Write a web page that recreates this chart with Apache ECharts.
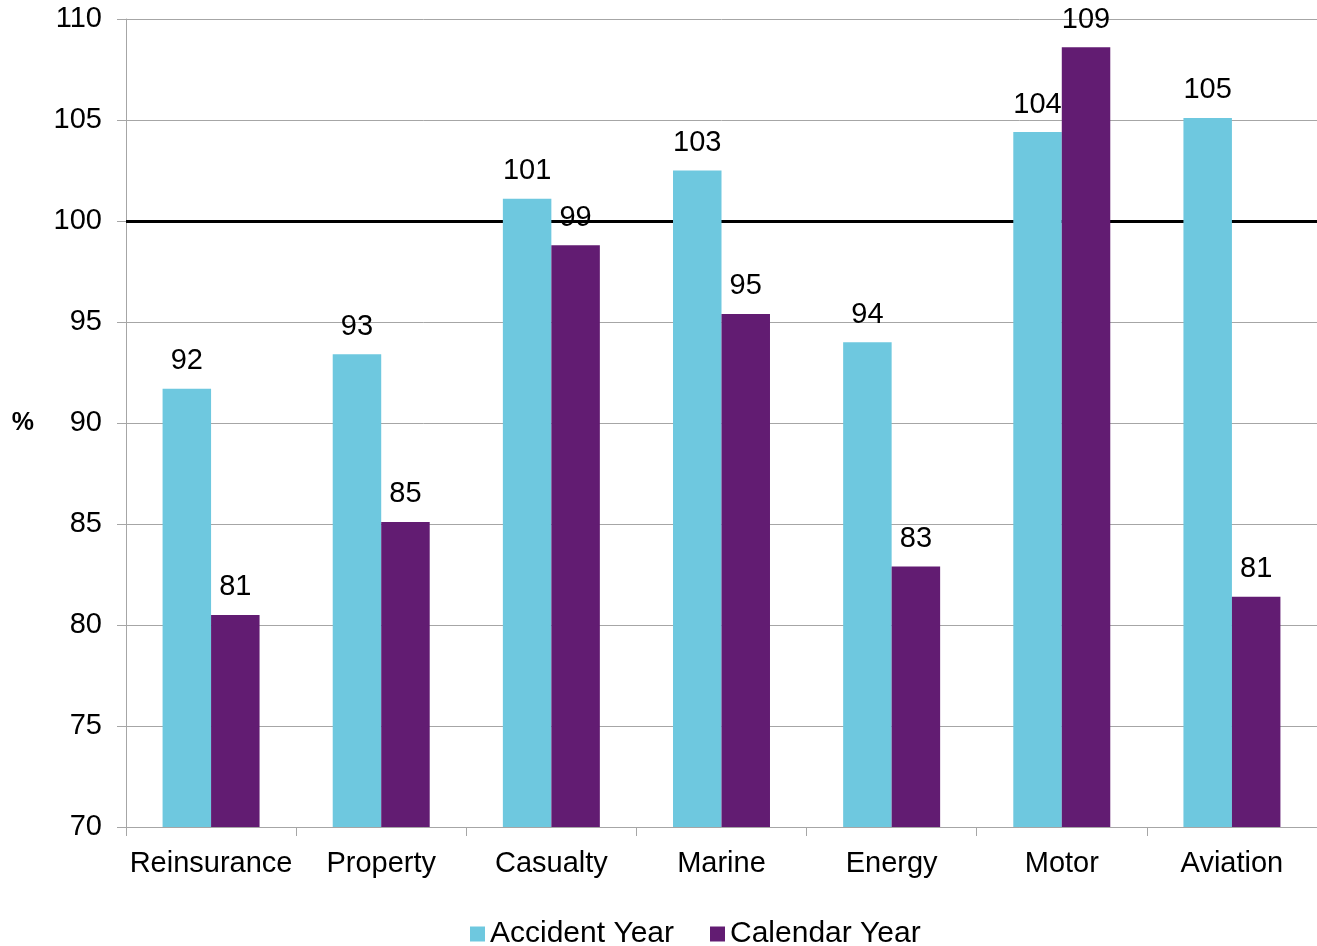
<!DOCTYPE html>
<html><head><meta charset="utf-8">
<script src="https://cdn.jsdelivr.net/npm/echarts@6/dist/echarts.min.js"></script>
<style>html,body{margin:0;padding:0;background:#fff}#c{width:1317px;height:946px}</style>
</head><body><div id="c"></div>
<script>
var categories = ['Reinsurance','Property','Casualty','Marine','Energy','Motor','Aviation'];
var accidentYear = [91.7, 93.4, 101.1, 102.5, 94.0, 104.4, 105.1];
var calendarYear = [80.5, 85.1, 98.8, 95.4, 82.9, 108.6, 81.4];
var seriesNames = ['Accident Year','Calendar Year'];
var yMin = 70, yMax = 110, yStep = 5, refLine = 100;

var font = 'Liberation Sans, Arial, sans-serif';
var chart = echarts.init(document.getElementById('c'));
var lbl = {show:true, position:'top', distance:13, fontFamily:font, fontSize:29, color:'#000',
  formatter:function(p){return Math.round(p.value);}};
chart.setOption({
  animation:false,
  grid:{left:126, right:0, top:19, bottom:119, containLabel:false},
  legend:{data:seriesNames, top:914, left:465, itemWidth:15, itemHeight:15, itemGap:36,
    textStyle:{fontFamily:font, fontSize:30, color:'#000'}, icon:'rect'},
  xAxis:{type:'category', data:categories,
    axisLine:{lineStyle:{color:'#a6a6a6', width:1}},
    axisTick:{show:true, alignWithLabel:false, interval:0, length:9, lineStyle:{color:'#a6a6a6'}},
    axisLabel:{interval:0, fontFamily:font, fontSize:29, color:'#000', margin:22}},
  yAxis:[{type:'value', min:yMin, max:yMax, interval:yStep,
    name:'%', nameLocation:'middle', nameRotate:0, nameGap:92,
    nameTextStyle:{fontFamily:font, fontSize:25, fontWeight:'bold', color:'#000'},
    axisLine:{show:true, lineStyle:{color:'#a6a6a6'}},
    axisTick:{show:true, length:9, lineStyle:{color:'#a6a6a6'}},
    axisLabel:{fontFamily:font, fontSize:29, color:'#000', margin:24},
    splitLine:{lineStyle:{color:'#a6a6a6', width:1}}},
   {type:'value', min:yMin, max:yMax, interval:refLine - yMin, position:'right', z:1,
    axisLine:{show:false}, axisTick:{show:false}, axisLabel:{show:false},
    splitLine:{show:true, showMinLine:false, showMaxLine:false,
      lineStyle:{color:'#000', width:3}}}],
  series:[
    {name:seriesNames[0], type:'bar', data:accidentYear, z:3, barGap:'0%', barCategoryGap:'43%',
      itemStyle:{color:'#6EC8DF'}, label:lbl},
    {name:seriesNames[1], type:'bar', data:calendarYear, z:3,
      itemStyle:{color:'#621C72'}, label:lbl}
  ]
});
</script></body></html>
